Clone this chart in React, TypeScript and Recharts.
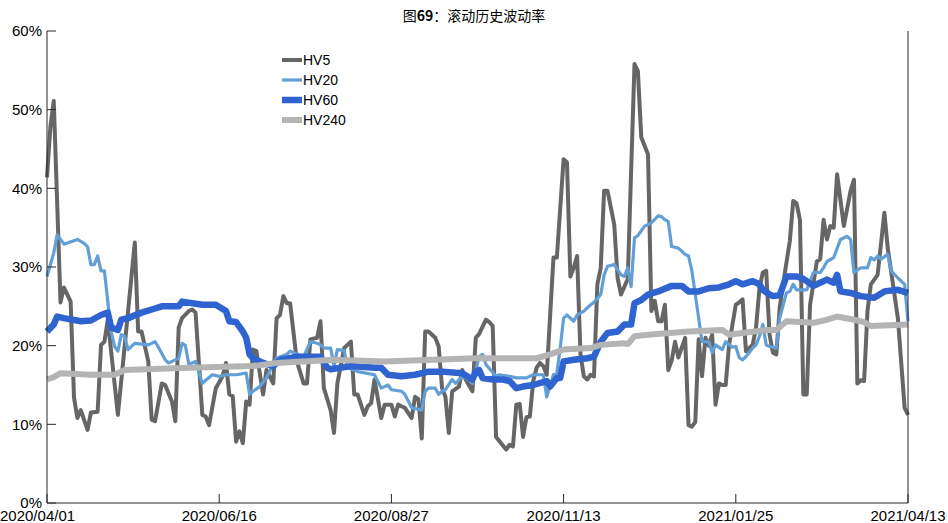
import { LineChart, Line, XAxis, YAxis } from 'recharts'

// trading-day index (0 = 2020/04/01, 255 = 2021/04/13), volatility in %
const dateTicks = [0, 51, 102, 153, 204, 255]
const dateLabels = ['2020/04/01', '2020/06/16', '2020/08/27', '2020/11/13', '2021/01/25', '2021/04/13']
const pctTicks = [0, 10, 20, 30, 40, 50, 60]

const hv5: [number, number][] = [
  [0, 41.4], [1, 47.8], [2, 51.1], [4, 25.5], [5, 27.4], [7, 25.6], [8, 13.4], [9, 10.8], [10, 11.8],
  [12, 9.3], [13, 11.5], [15, 11.6], [16, 20.1], [17, 20.5], [18, 23.3], [21, 11.2], [26, 33.1],
  [27, 21.8], [28, 21.8], [30, 18.0], [31, 10.6], [32, 10.4], [34, 15.2], [35, 15.0], [37, 12.9],
  [38, 10.4], [39, 22.3], [40, 23.5], [42, 24.4], [43, 24.6], [44, 24.2], [46, 11.2], [47, 11.0],
  [48, 9.9], [50, 14.6], [52, 16.1], [53, 17.8], [54, 13.8], [55, 13.6], [56, 7.8], [57, 9.1],
  [58, 7.6], [59, 12.9], [60, 12.5], [61, 19.5], [62, 19.3], [64, 13.8], [65, 16.9], [67, 15.2],
  [68, 23.5], [69, 23.9], [70, 26.3], [71, 25.4], [72, 25.4], [74, 18.0], [76, 15.2], [77, 15.2],
  [78, 20.8], [80, 21.0], [81, 23.1], [82, 14.6], [84, 11.8], [85, 8.9], [86, 15.2], [88, 19.7],
  [89, 20.1], [90, 20.5], [91, 13.8], [92, 13.8], [94, 11.2], [95, 12.3], [96, 12.7], [97, 15.7],
  [99, 10.8], [100, 12.5], [102, 12.5], [103, 11.0], [104, 12.5], [105, 12.3], [106, 12.1],
  [108, 10.8], [109, 13.5], [110, 13.2], [111, 8.2], [112, 21.8], [113, 21.8], [115, 21.0],
  [116, 19.9], [117, 14.6], [118, 13.5], [119, 8.9], [120, 14.2], [122, 14.8], [123, 16.9],
  [124, 15.7], [126, 14.2], [127, 21.0], [128, 21.5], [130, 23.3], [131, 23.0], [132, 22.5],
  [133, 8.4], [136, 6.8], [137, 7.4], [138, 7.2], [139, 12.5], [140, 12.6], [141, 8.4], [142, 10.9],
  [143, 11.0], [144, 15.5], [145, 17.2], [146, 17.8], [147, 17.4], [148, 16.3], [150, 31.2],
  [151, 31.2], [153, 43.7], [154, 43.3], [155, 28.8], [156, 29.9], [157, 31.4], [158, 18.9],
  [159, 16.1], [160, 15.7], [161, 16.3], [162, 16.1], [163, 27.8], [164, 29.9], [165, 39.7],
  [166, 39.7], [168, 35.4], [169, 28.6], [170, 26.5], [171, 27.5], [172, 28.5], [174, 55.8],
  [175, 54.9], [176, 46.5], [178, 44.3], [179, 24.4], [180, 25.7], [181, 23.1], [182, 23.1],
  [183, 25.2], [184, 16.9], [185, 18.1], [186, 20.5], [187, 18.5], [189, 21.0], [190, 9.9],
  [191, 9.7], [192, 10.3], [193, 20.8], [194, 16.1], [195, 21.0], [196, 20.0], [197, 21.4],
  [198, 12.5], [199, 15.2], [200, 15.0], [201, 15.0], [202, 20.1], [204, 25.2], [205, 25.5],
  [206, 25.9], [207, 19.3], [208, 19.7], [209, 20.1], [210, 22.3], [211, 27.3], [212, 29.3],
  [213, 29.5], [214, 21.4], [215, 19.1], [216, 18.9], [217, 24.8], [218, 27.8], [220, 33.3],
  [221, 38.4], [222, 38.1], [223, 36.0], [224, 13.8], [225, 13.8], [226, 25.2], [228, 30.7],
  [229, 31.0], [230, 36.0], [231, 33.5], [232, 35.2], [233, 35.0], [234, 41.8], [236, 35.2],
  [238, 39.7], [239, 41.1], [240, 15.2], [241, 15.6], [242, 15.5], [243, 24.4], [244, 27.8],
  [246, 29.0], [248, 36.9], [249, 32.4], [252, 23.5], [254, 12.1], [255, 11.2],
]

const hv20: [number, number][] = [
  [0, 28.8], [2, 31.8], [3, 34.1], [5, 32.9], [9, 33.5], [11, 33.0], [12, 32.6], [13, 30.3],
  [14, 30.3], [15, 31.4], [16, 29.5], [17, 29.5], [19, 21.8], [20, 19.9], [21, 19.3], [22, 21.4],
  [23, 21.2], [24, 19.5], [26, 20.3], [30, 20.1], [32, 20.5], [33, 19.8], [35, 18.2], [36, 17.8],
  [38, 18.2], [39, 18.4], [40, 20.3], [41, 20.0], [42, 17.6], [44, 18.0], [46, 15.2], [47, 15.6],
  [49, 16.3], [51, 16.1], [53, 16.3], [56, 16.3], [59, 16.5], [60, 13.8], [61, 14.2], [63, 14.8],
  [65, 15.9], [66, 16.8], [68, 18.4], [71, 18.9], [72, 19.3], [74, 18.9], [76, 18.6], [78, 20.5],
  [80, 20.3], [81, 20.1], [82, 19.7], [84, 19.7], [85, 17.4], [86, 19.5], [88, 19.4], [89, 17.2],
  [92, 16.7], [97, 16.3], [99, 14.6], [101, 15.0], [102, 14.4], [105, 14.2], [106, 13.8],
  [108, 12.1], [111, 11.8], [112, 14.2], [113, 14.6], [115, 14.6], [116, 13.8], [117, 14.2],
  [118, 14.4], [120, 15.7], [121, 15.2], [123, 16.1], [125, 15.7], [126, 15.2], [128, 18.6],
  [129, 18.9], [130, 17.6], [133, 16.1], [134, 16.3], [137, 16.1], [139, 15.9], [142, 15.9],
  [144, 16.3], [147, 16.3], [148, 13.5], [150, 16.3], [151, 16.5], [152, 19.7], [153, 23.5],
  [154, 23.9], [156, 23.1], [157, 23.9], [159, 24.4], [161, 25.2], [162, 25.5], [164, 26.5],
  [165, 29.0], [166, 30.1], [168, 30.3], [170, 29.0], [171, 28.8], [172, 29.9], [173, 27.5],
  [174, 33.7], [175, 34.0], [177, 35.2], [179, 35.6], [181, 36.5], [182, 36.4], [183, 36.0],
  [184, 35.8], [185, 32.6], [187, 32.4], [189, 31.6], [190, 31.4], [191, 29.5], [193, 23.5],
  [194, 20.5], [196, 20.5], [197, 19.1], [198, 20.1], [200, 19.5], [201, 20.5], [203, 19.8],
  [204, 19.9], [205, 18.5], [206, 18.2], [207, 18.6], [209, 19.7], [210, 20.1], [211, 21.2],
  [212, 22.7], [213, 20.1], [214, 19.9], [216, 19.7], [217, 23.5], [219, 26.7], [220, 26.9],
  [221, 27.8], [222, 27.1], [225, 27.1], [227, 29.3], [229, 29.3], [230, 29.9], [231, 30.7],
  [233, 31.2], [235, 33.5], [237, 33.9], [238, 33.5], [239, 29.3], [241, 29.9], [243, 29.9],
  [244, 31.2], [245, 30.9], [246, 31.4], [247, 31.0], [249, 31.6], [250, 29.5], [252, 28.6],
  [254, 27.8], [255, 23.1],
]

const hv60: [number, number][] = [
  [0, 21.8], [2, 22.7], [3, 23.7], [5, 23.5], [10, 23.1], [13, 23.2], [16, 23.9], [18, 24.2],
  [19, 22.3], [21, 22.0], [22, 23.3], [24, 23.5], [28, 24.2], [31, 24.6], [34, 25.0], [39, 25.0],
  [40, 25.6], [46, 25.2], [50, 25.2], [53, 24.4], [54, 23.1], [56, 23.0], [58, 21.8], [59, 21.0],
  [60, 18.9], [61, 18.4], [64, 17.8], [67, 17.4], [69, 18.2], [74, 18.6], [81, 18.6], [83, 17.2],
  [84, 17.0], [90, 17.4], [97, 17.2], [99, 17.2], [101, 16.3], [105, 16.1], [109, 16.3],
  [113, 16.7], [117, 16.7], [123, 16.5], [126, 15.7], [127, 16.7], [128, 16.9], [129, 15.9],
  [132, 15.7], [135, 15.7], [137, 15.5], [139, 14.6], [141, 14.8], [144, 15.0], [148, 15.5],
  [149, 14.8], [151, 15.9], [152, 15.9], [153, 18.0], [156, 18.2], [160, 18.4], [162, 18.6],
  [164, 20.5], [166, 21.6], [169, 21.8], [171, 22.7], [173, 22.7], [174, 25.4], [176, 25.8],
  [178, 26.5], [181, 26.9], [185, 27.6], [188, 27.6], [190, 26.9], [193, 26.9], [196, 27.3],
  [199, 27.4], [202, 27.8], [204, 28.2], [206, 27.8], [209, 28.2], [211, 27.8], [212, 27.1],
  [214, 26.5], [215, 26.3], [217, 26.4], [219, 28.8], [222, 28.8], [224, 28.5], [227, 27.6],
  [228, 27.8], [231, 28.4], [233, 28.0], [234, 29.0], [235, 26.9], [238, 26.7], [241, 26.3],
  [245, 26.1], [248, 26.9], [252, 27.1], [255, 26.7],
]

const hv240: [number, number][] = [
  [0, 15.7], [2, 16.0], [4, 16.5], [13, 16.3], [20, 16.3], [23, 16.9], [42, 17.2], [61, 17.4],
  [68, 17.8], [85, 18.2], [100, 18.0], [127, 18.4], [145, 18.4], [149, 18.9], [153, 19.5],
  [161, 19.7], [164, 20.1], [171, 20.3], [172, 20.2], [174, 21.2], [178, 21.4], [190, 21.8],
  [200, 22.0], [202, 21.4], [213, 22.0], [216, 22.0], [219, 23.1], [227, 22.9], [231, 23.3],
  [234, 23.7], [239, 23.3], [242, 23.0], [244, 22.5], [255, 22.7],
]

const series = [
  { name: 'HV5', points: hv5, color: '#666666', width: 4 },
  { name: 'HV20', points: hv20, color: '#629fd6', width: 3.2 },
  { name: 'HV60', points: hv60, color: '#2f63cf', width: 6.5 },
  { name: 'HV240', points: hv240, color: '#b4b4b4', width: 6 },
]

const font = '"Liberation Sans", Arial, Helvetica, sans-serif'
const axisColor = '#262626'

function LegendBox() {
  return (
    <div
      style={{
        position: 'absolute',
        left: 282,
        top: 50,
        fontFamily: font,
        fontSize: 14,
        color: '#000',
        lineHeight: '20px',
      }}
    >
      {series.map(s => (
        <div key={s.name} style={{ display: 'flex', alignItems: 'center', height: 20 }}>
          <svg width={20} height={10} style={{ marginRight: 1 }}>
            <line x1={0} y1={5} x2={20} y2={5} stroke={s.color} strokeWidth={s.width} />
          </svg>
          <span>{s.name}</span>
        </div>
      ))}
    </div>
  )
}

// first date label sits flush with the page edge, as in the original
function DateTick(props: any) {
  const { x, y, payload, index } = props
  const first = index === 0
  return (
    <text
      x={first ? 0 : x}
      y={y}
      dy="0.71em"
      textAnchor={first ? 'start' : 'middle'}
      fill="#000"
      fontSize={15}
      fontFamily={font}
    >
      {dateLabels[dateTicks.indexOf(payload.value)]}
    </text>
  )
}

export default function App() {
  return (
    <div style={{ position: 'absolute', left: 0, top: 0, width: 948, height: 523, background: '#fff' }}>
      <div
        style={{
          position: 'absolute',
          top: 6,
          left: 0,
          width: 948,
          textAlign: 'center',
          fontFamily: '"Noto Sans CJK SC", sans-serif',
          fontSize: 14,
          lineHeight: '18px',
          color: '#000',
        }}
      >
        图<b>69</b>：滚动历史波动率
      </div>
      <LineChart width={948} height={523} margin={{ top: 31, right: 0, bottom: 0, left: 0 }}>
        <XAxis
          xAxisId="bottom"
          dataKey="t"
          type="number"
          domain={[0, 255]}
          ticks={dateTicks}
          height={20}
          tickSize={-9}
          tickMargin={16}
          stroke={axisColor}
          tick={<DateTick />}
          interval={0}
        />
        <XAxis
          xAxisId="top"
          orientation="top"
          dataKey="t"
          type="number"
          domain={[0, 255]}
          ticks={dateTicks}
          height={0}
          tickSize={-9}
          tick={false}
          stroke={axisColor}
        />
        <YAxis
          yAxisId="left"
          domain={[0, 60]}
          ticks={pctTicks}
          tickFormatter={(v: number) => `${v}%`}
          width={47}
          tickSize={-9}
          tickMargin={14}
          stroke={axisColor}
          tick={{ fill: '#000', fontSize: 15, fontFamily: font }}
          interval={0}
        />
        <YAxis
          yAxisId="right"
          orientation="right"
          domain={[0, 60]}
          ticks={pctTicks}
          width={40}
          tickSize={-9}
          tick={false}
          stroke={axisColor}
        />
        {series.map(s => (
          <Line
            key={s.name}
            xAxisId="bottom"
            yAxisId="left"
            name={s.name}
            data={s.points.map(([t, v]) => ({ t, v }))}
            dataKey="v"
            type="linear"
            stroke={s.color}
            strokeWidth={s.width}
            strokeLinejoin="round"
            dot={false}
            activeDot={false}
            isAnimationActive={false}
          />
        ))}
      </LineChart>
      <LegendBox />
    </div>
  )
}
